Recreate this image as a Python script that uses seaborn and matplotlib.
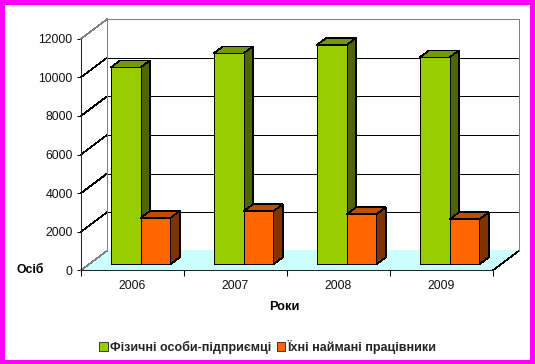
import pandas as pd
import seaborn as sns
import matplotlib
matplotlib.use('Agg')
import matplotlib.pyplot as plt
from matplotlib.patches import Polygon, Rectangle

years = ['2006', '2007', '2008', '2009']
owners = [10200, 10930, 11360, 10720]
workers = [2400, 2750, 2590, 2330]
owners_name = 'Фізичні особи-підприємці'
workers_name = 'Їхні наймані працівники'
y_ticks = [0, 2000, 4000, 6000, 8000, 10000, 12000]

W, H = 535, 364
# передня площина осей у пікселях
LEFT, RIGHT, TOP, BOTTOM = 81, 493, 38.7, 270.3
LW = 0.5

sns.set_style('white')
plt.rcParams['font.family'] = ['Liberation Sans', 'DejaVu Sans']

df = pd.DataFrame({
    'year': years * 2,
    'value': owners + workers,
    'kind': [owners_name] * 4 + [workers_name] * 4,
})

fig = plt.figure(figsize=(W / 100, H / 100), dpi=100, facecolor='#FF00FF')
# біле поле всередині рамки
fig.add_artist(Rectangle((5 / W, 4 / H), 525 / W, 355 / H, transform=fig.transFigure,
                         facecolor='white', edgecolor='none', zorder=-5))
ax = fig.add_axes([LEFT / W, 1 - BOTTOM / H, (RIGHT - LEFT) / W, (BOTTOM - TOP) / H])
ax.patch.set_visible(False)

sns.barplot(data=df, x='year', y='value', hue='kind', order=years, width=0.58, gap=0,
            palette=['#99CC00', '#FF6600'], edgecolor='black', linewidth=LW,
            saturation=1, ax=ax)
ax.set_xlim(-0.5, 3.5)
ax.set_ylim(0, 12000)

px_x = 4 / (RIGHT - LEFT)
px_y = 12000 / (BOTTOM - TOP)
wall_x, wall_y = 26 * px_x, 19.5 * px_y
shift_x, shift_y = 8 * px_x, 6 * px_y
deep_x, deep_y = 9.5 * px_x, 7 * px_y
GREY = '#808080'


def face(points, fc, ec='black', z=1.0):
    ax.add_patch(Polygon(points, closed=True, facecolor=fc, edgecolor=ec, linewidth=LW,
                         zorder=z, clip_on=False, antialiased=False))


# підлога та задня стінка
x0, x1 = -0.5, 3.5
face([(x0, 0), (x1, 0), (x1 + wall_x, wall_y), (x0 + wall_x, wall_y)], '#CCFFFF', 'none', 0.5)
ax.plot([x1, x1 + wall_x], [0, wall_y], color='black', lw=LW, zorder=1, clip_on=False,
        antialiased=False)
ax.plot([x0 + wall_x, x0 + wall_x, x1 + wall_x, x1 + wall_x],
        [wall_y, 12000 + wall_y, 12000 + wall_y, wall_y], color=GREY, lw=LW, zorder=1.2,
        clip_on=False, antialiased=False)
for v in y_ticks:
    c = GREY if v in (0, 12000) else 'black'
    ax.plot([x0, x0 + wall_x], [v, v + wall_y], color=c, lw=LW, zorder=1, clip_on=False,
            antialiased=False)
    if 0 < v < 12000:
        ax.plot([x0 + wall_x, x1 + wall_x], [v + wall_y, v + wall_y], color='black', lw=LW,
                zorder=1, clip_on=False, antialiased=False)

# об'ємні стовпчики
colors = {0: ('#4F6600', '#739900'), 1: ('#803300', '#BF4D00')}
for n, bars in enumerate(ax.containers):
    side, top = colors[n]
    for b in bars:
        b.set_x(b.get_x() + shift_x)
        b.set_y(shift_y)
        b.set_zorder(3.2 + n)
        b.set_antialiased(False)
        xl, xr = b.get_x(), b.get_x() + b.get_width()
        yb, yt = b.get_y(), b.get_y() + b.get_height()
        face([(xr, yb), (xr + deep_x, yb + deep_y), (xr + deep_x, yt + deep_y), (xr, yt)], side, z=3 + n)
        face([(xl, yt), (xr, yt), (xr + deep_x, yt + deep_y), (xl + deep_x, yt + deep_y)], top, z=3 + n)

sns.despine(ax=ax)
ax.spines['left'].set_linewidth(0.75)
ax.spines['bottom'].set_linewidth(0.75)
ax.set_yticks(y_ticks)
ax.set_xticks([-0.5, 0.5, 1.5, 2.5, 3.5], minor=True)
ax.tick_params(axis='x', which='major', length=0, pad=7, labelsize=8.8, labelcolor='#111111')
ax.tick_params(axis='x', which='minor', bottom=True, length=4, width=0.75, color='black')
ax.tick_params(axis='y', left=True, length=3, width=0.75, color='black', pad=3, labelsize=8.8,
               labelcolor='#111111')

ax.set_xlabel('Роки', fontweight='bold', fontsize=9.2, color='black')
ax.xaxis.set_label_coords((284.5 - LEFT) / (RIGHT - LEFT), -(307.5 - BOTTOM) / (BOTTOM - TOP))
ax.xaxis.label.set_va('center')
ax.set_ylabel('Осіб', fontweight='bold', fontsize=8.8, rotation=0, ha='center', va='center',
              color='black')
ax.yaxis.set_label_coords((30 - LEFT) / (RIGHT - LEFT), 0)

handles, labels = ax.get_legend_handles_labels()
ax.get_legend().remove()
fig.legend(handles, labels, loc='center', bbox_to_anchor=(268 / W, 1 - 347 / H), ncol=2,
           frameon=False, prop={'weight': 'bold', 'size': 9}, handlelength=0.65, handleheight=0.65,
           handletextpad=0.2, columnspacing=0.45, borderpad=0, borderaxespad=0)

fig.savefig('out.png', dpi=100, facecolor=fig.get_facecolor())
